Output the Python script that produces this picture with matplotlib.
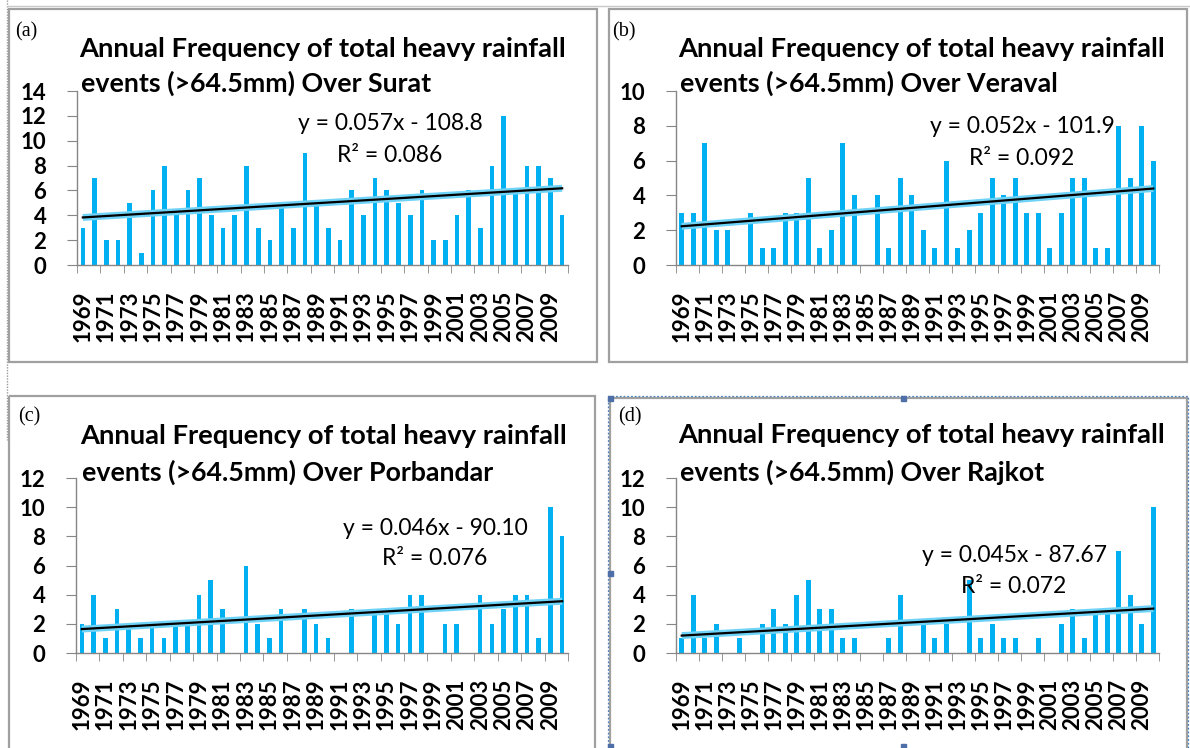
import numpy as np
from matplotlib import pyplot as plt
from matplotlib.patches import Rectangle

W, H = 1190, 748

years = np.arange(1969, 2011)

surat = [3, 7, 2, 2, 5, 1, 6, 8, 4, 6, 7, 4, 3, 4, 8, 3, 2, 5, 3, 9, 5,
         3, 2, 6, 4, 7, 6, 5, 4, 6, 2, 2, 4, 6, 3, 8, 12, 6, 8, 8, 7, 4]
veraval = [3, 3, 7, 2, 2, 0, 3, 1, 1, 3, 3, 5, 1, 2, 7, 4, 0, 4, 1, 5, 4,
           2, 1, 6, 1, 2, 3, 5, 4, 5, 3, 3, 1, 3, 5, 5, 1, 1, 8, 5, 8, 6]
porbandar = [2, 4, 1, 3, 2, 1, 2, 1, 2, 2, 4, 5, 3, 0, 6, 2, 1, 3, 0, 3, 2,
             1, 0, 3, 0, 3, 3, 2, 4, 4, 0, 2, 2, 0, 4, 2, 3, 4, 4, 1, 10, 8]
rajkot = [1, 4, 1, 2, 0, 1, 0, 2, 3, 2, 4, 5, 3, 3, 1, 1, 0, 0, 1, 4, 0,
          2, 1, 2, 0, 5, 1, 2, 1, 1, 0, 1, 0, 2, 3, 1, 3, 3, 7, 4, 2, 10]

stations = ["Surat", "Veraval", "Porbandar", "Rajkot"]
series = [surat, veraval, porbandar, rajkot]
panel_tags = ["(a)", "(b)", "(c)", "(d)"]
y_max = [14, 10, 12, 12]
equations = ["y = 0.057x - 108.8", "y = 0.052x - 101.9",
             "y = 0.046x - 90.10", "y = 0.045x - 87.67"]
r_squared = ["0.086", "0.092", "0.076", "0.072"]

BAR = "#00b0f0"
AXIS = "#868686"
FONT = "Lato"

# pixel layout: axes (left, right, top, bottom), title x, title baselines,
# tag position, equation centre and baselines
layout = [
    dict(ax=(77, 568, 91, 265), tx=79, ty=(57, 92), tag=(15, 36),
         eq=(390, 130, 162)),
    dict(ax=(676, 1159, 91, 265), tx=678, ty=(57, 92), tag=(612, 36),
         eq=(1022, 133, 165)),
    dict(ax=(76, 568, 478, 653), tx=80, ty=(444, 481), tag=(18, 421),
         eq=(435, 535, 565)),
    dict(ax=(676, 1159, 478, 653), tx=678, ty=(443, 481), tag=(618, 421),
         eq=(1014, 562, 593)),
]


def px(x, y):
    return x / W, 1 - y / H


fig = plt.figure(figsize=(W / 100, H / 100), dpi=100)

# background layer for the frames around each chart
bg = fig.add_axes([0, 0, 1, 1])
bg.set_xlim(0, W)
bg.set_ylim(H, 0)
bg.axis("off")
bg.plot([7, 7], [0, 440], color="#9a9a9a", lw=1, ls=(0, (1, 1)))
bg.plot([7, W], [6, 6], color="#c8c8c8", lw=1)
for x0, y0, x1, y1 in [(9, 9, 597, 362), (609, 9, 1187, 362),
                       (9, 396, 595, 760), (610, 398, 1187, 760)]:
    bg.add_patch(Rectangle((x0, y0), x1 - x0, y1 - y0, fill=False,
                           ec="#a0a0a0", lw=1.6))
bg.add_patch(Rectangle((608, 396), 580, 360, fill=False, ec="#4f81bd",
                       lw=0.9, ls=(0, (1.5, 1.5))))
for hx, hy in [(610, 398), (903, 398), (610, 573), (610, 746), (903, 746)]:
    bg.add_patch(Rectangle((hx - 2.5, hy - 2.5), 5, 5, color="#4f6fa8"))

for i, (vals, name) in enumerate(zip(series, stations)):
    lay = layout[i]
    l, r, t, b = lay["ax"]
    ax = fig.add_axes([l / W, 1 - b / H, (r - l) / W, (b - t) / H])
    vals = np.array(vals)
    ax.bar(years, vals, width=0.4, color=BAR, zorder=2)

    # linear trend with the light glow Excel puts round it
    slope, icpt = np.polyfit(years, vals, 1)
    trend = slope * years + icpt
    ax.plot(years, trend, color="#6fd3f8", lw=5, zorder=3,
            solid_capstyle="butt")
    ax.plot(years, trend, color="black", lw=1.6, zorder=4)

    ax.set_xlim(1968.5, 2010.5)
    ax.set_ylim(0, y_max[i])
    ax.set_yticks(np.arange(0, y_max[i] + 1, 2))
    ax.set_xticks(years[::2])
    ax.set_xticklabels([str(y) for y in years[::2]], rotation=90)
    ax.set_xticks(np.arange(1968.5, 2011, 2), minor=True)
    for lab in ax.get_xticklabels() + ax.get_yticklabels():
        lab.set_fontfamily(FONT)
        lab.set_fontweight("bold")
        lab.set_fontsize(16)
    ax.tick_params(axis="x", which="major", length=0, pad=18.5)
    ax.tick_params(axis="x", which="minor", length=6, color=AXIS,
                   direction="out")
    ax.tick_params(axis="y", which="major", length=7, color=AXIS, pad=15)
    for s in ["top", "right"]:
        ax.spines[s].set_visible(False)
    for s in ["left", "bottom"]:
        ax.spines[s].set_color(AXIS)
        ax.spines[s].set_linewidth(1.0)
    ax.patch.set_alpha(0)

    tx = lay["tx"]
    ty1, ty2 = lay["ty"]
    fig.text(*px(tx, ty1), "Annual Frequency of total heavy rainfall",
             family=FONT, weight="bold", fontsize=19.7, va="baseline")
    fig.text(*px(tx + 2, ty2), f"events (>64.5mm) Over {name}",
             family=FONT, weight="bold", fontsize=19.3, va="baseline")
    fig.text(*px(*lay["tag"]), panel_tags[i], family="Liberation Serif",
             fontsize=14.5, va="baseline")
    ex, ey1, ey2 = lay["eq"]
    fig.text(*px(ex, ey1), equations[i], family=FONT, fontsize=16.5,
             ha="center", va="baseline", zorder=5)
    fig.text(*px(ex, ey2), f"R² = {r_squared[i]}", family=FONT,
             fontsize=16.5, ha="center", va="baseline", zorder=5)

fig.savefig("out.png", dpi=100)
